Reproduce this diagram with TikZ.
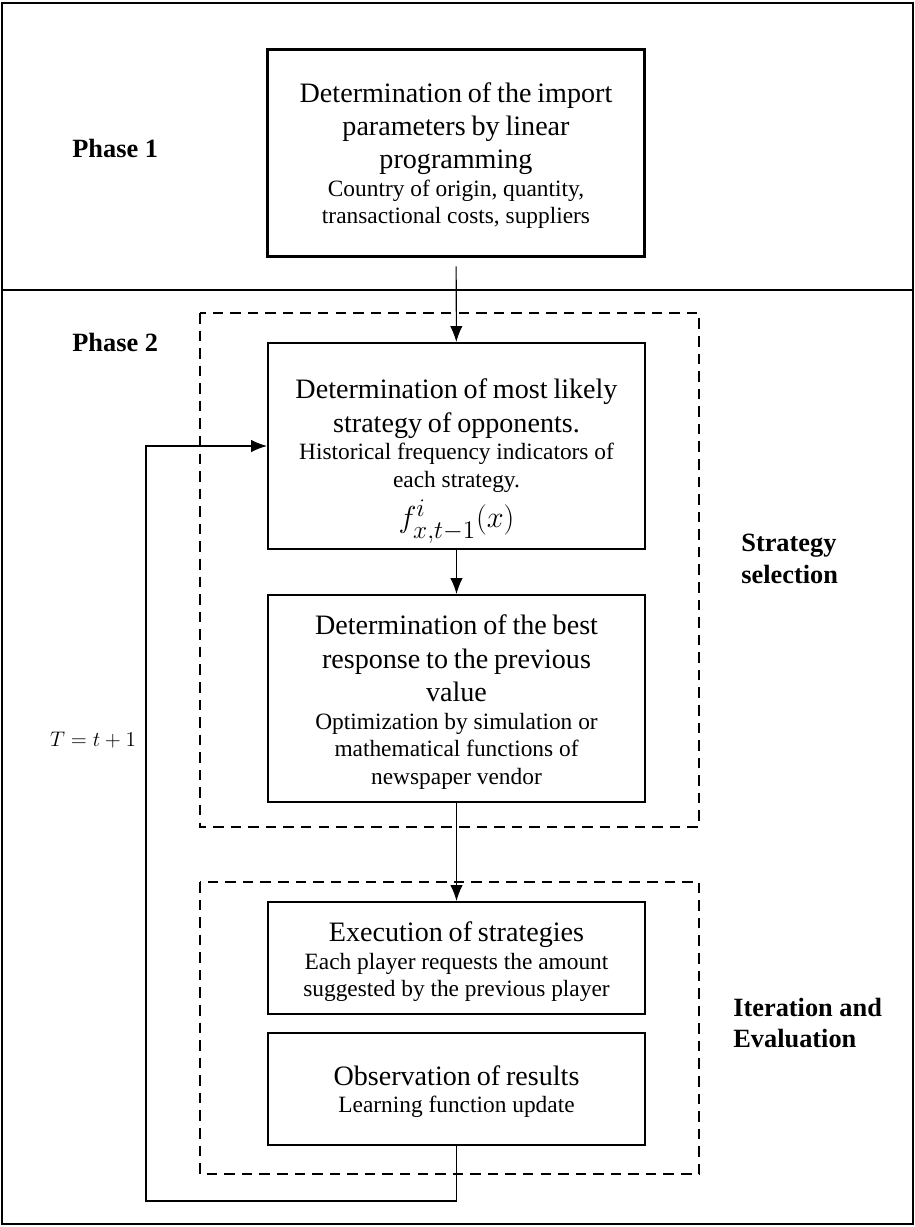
\documentclass[tikz,border=0pt]{standalone}
\usepackage{amsmath,amssymb}
\usepackage{fontspec}
\setmainfont{Liberation Serif}
\usetikzlibrary{arrows.meta}
\tikzset{stagebox/.style={draw,line width=1.2pt,minimum width=7.54cm,text width=7.4cm,align=center,inner sep=0pt},
  groupframe/.style={dashed,line width=1.2pt,dash pattern=on 6pt off 4pt},
  phaselabel/.style={font=\bfseries\fontsize{15}{18}\selectfont,align=left,anchor=west,inner sep=0pt},
  flow/.style={-{Latex[length=9pt,width=7pt]},line width=0.6pt}}
\newcommand{\bigline}{\fontsize{16}{18.9}\selectfont}
\newcommand{\smallline}{\fontsize{13.3}{15.8}\selectfont}
\newcommand{\topgap}[1]{\rule{0pt}{#1}}
\begin{document}
\begin{tikzpicture}[x=0.02cm,y=-0.02cm,every node/.style={align=center}]
\useasboundingbox (0,0) rectangle (915,1227);
\draw[line width=1.2pt] (2,3) rectangle (913,290);
\draw[line width=1.2pt] (2,290) rectangle (913,1224);
\draw[groupframe] (200,313) rectangle (699,827);
\draw[groupframe] (200,882) rectangle (699,1174);
\node[phaselabel] (ph1) at (72,148) {Phase 1};
\node[phaselabel] (ph2) at (72,342) {Phase 2};
\node[phaselabel] (sel) at (741,559) {Strategy\\selection};
\node[phaselabel] (iter) at (733,1023) {Iteration and\\Evaluation};
\node[stagebox,minimum height=4.14cm] (lp) at (456,153) {{\bigline\topgap{0.5cm}Determination of the import\\parameters by linear\\programming\par}
  {\smallline Country of origin, quantity,\\transactional costs, suppliers\par}};
\node[stagebox,minimum height=4.12cm] (likely) at (456.5,446) {{\bigline\topgap{1.0cm}Determination of most likely\\strategy of opponents.\par}
  {\smallline Historical frequency indicators of\\each strategy.\par}\vspace{-0.08cm}
  {\fontsize{19}{25}\selectfont $f^{i}_{x,t-1}(x)$\par}};
\node[stagebox,minimum height=4.14cm] (best) at (456.5,698.5) {{\bigline\topgap{0.55cm}Determination of the best\\response to the previous\\value\par}
  {\smallline Optimization by simulation or\\mathematical functions of\\newspaper vendor\par}};
\node[stagebox,minimum height=2.24cm] (exec) at (456.5,958) {{\bigline\topgap{0.55cm}Execution of strategies\par}
  {\smallline Each player requests the amount\\suggested by the previous player\par}};
\node[stagebox,minimum height=2.24cm] (obs) at (456.5,1089) {{\bigline\topgap{0.5cm}Observation of results\par}
  {\smallline Learning function update\par}};
\node (tlabel) at (93,740) {\fontsize{13}{15}\selectfont $T=t+1$};
\coordinate (loop) at (146,1201);
\draw[flow,shorten <=5pt] (lp) -- (likely);\draw[flow] (likely) -- (best);\draw[flow] (best) -- (exec);
\draw[flow] (obs.south) |- (loop) |- (likely.west);
\end{tikzpicture}
\end{document}
